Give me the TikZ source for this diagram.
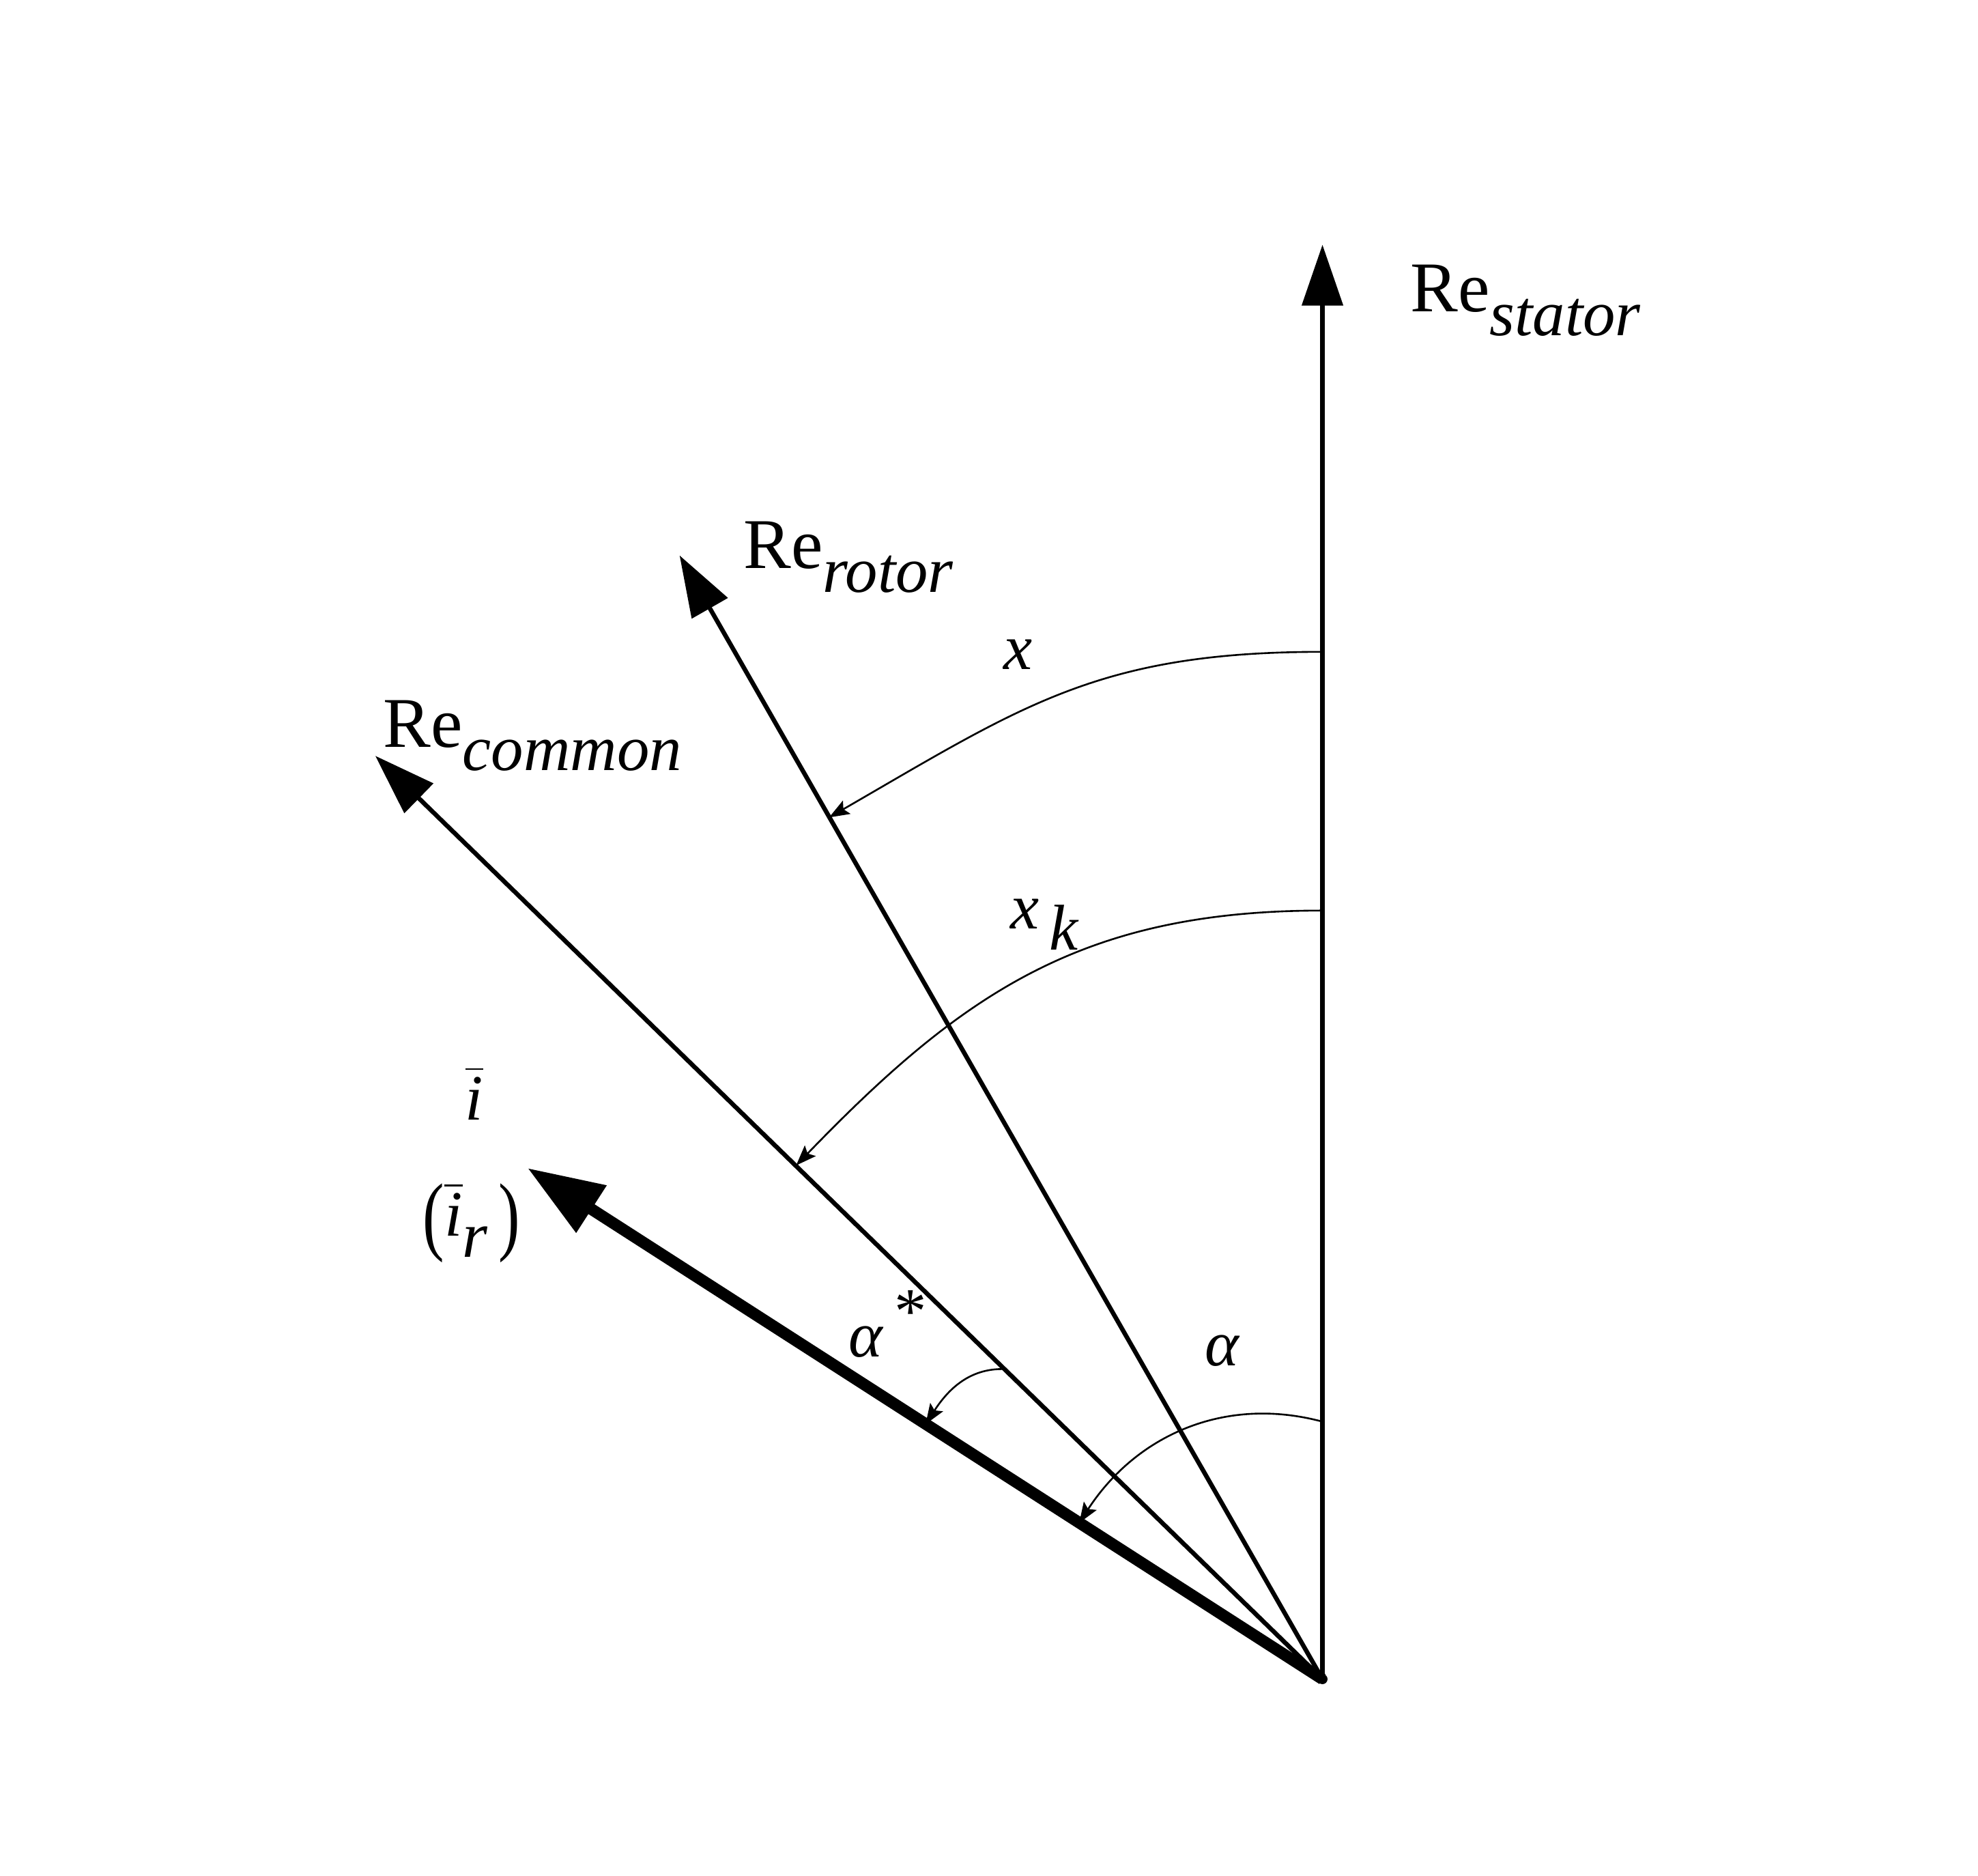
\documentclass[tikz,border=0pt]{standalone}
\usepackage{graphicx}
\usepackage{fontspec}
\setmainfont{Liberation Serif}
\usetikzlibrary{arrows.meta}
\newcommand{\resub}[1]{{\fontsize{16}{18}\selectfont Re}\raisebox{-0.8ex}{\textit{#1}}}
\newcommand{\tallparen}[1]{\raisebox{-0.12em}{\scalebox{1}[1.35]{#1}}}
\begin{document}
\begin{tikzpicture}[x=0.01cm,y=0.01cm,
    axis/.style={line width=1pt,-{Triangle[length=0.48cm,width=0.32cm]}},
    current/.style={line width=2.6pt,-{Triangle[length=0.6cm,width=0.42cm]}},
    angarc/.style={line width=0.4pt,-{Stealth[length=0.16cm,width=0.12cm,inset=0.03cm]}},
    lbl/.style={font=\fontsize{14.5}{17}\selectfont}]
    \useasboundingbox (-1043,-155) rectangle (517,1324);
    \coordinate (O) at (0,0);
    \coordinate (stator) at (0,1131);
    \coordinate (rotor) at (-507,886);
    \coordinate (common) at (-747,728);
    \coordinate (cur) at (-627,403);
    % axes and current vector
    \draw[axis] (O) -- (stator);
    \draw[axis] (O) -- (rotor);
    \draw[axis] (O) -- (common);
    \draw[current] (O) -- (cur);
    \fill (O) circle (4);
    % angles
    \coordinate (xs) at (0,810);       \coordinate (xe) at (119.8:783);
    \coordinate (xks) at (0,606);      \coordinate (xke) at (135.7:580);
    \coordinate (as) at (0,203);       \coordinate (ae) at (147.3:228);
    \coordinate (ass) at (135.7:350);  \coordinate (ase) at (147.3:372);
    \draw[angarc] (xs) to[out=180,in=30,looseness=1.1] (xe);
    \draw[angarc] (xks) to[out=180,in=46,looseness=1.05] (xke);
    \draw[angarc] (as) to[out=165,in=57] (ae);
    \draw[angarc] (ass) to[out=178,in=57] (ase);
    % labels
    \node[lbl,anchor=base west] (restator) at (57,1078) {\resub{stator}};
    \node[lbl,anchor=base west] (rerotor) at (-469,876) {\resub{rotor}};
    \node[lbl,anchor=base west] (recommon) at (-753,735) {\resub{common}};
    \node[lbl] (lx) at (-240,808) {\textit{x}};
    \node[lbl] (lxk) at (-219,595) {\textit{x}\,\raisebox{-0.7ex}{\textit{k}}};
    \node[lbl] (libar) at (-669,462) {$\overline{\vphantom{l}\textit{i}}$};
    \node[lbl] (lir) at (-671,360) {\tallparen{(}$\overline{\vphantom{l}\textit{i}}$\raisebox{-0.7ex}{\textit{r}}\,\tallparen{)}};
    \node[lbl] (lastar) at (-343,280) {\textit{α}\,\raisebox{0.8ex}{*}};
    \node[lbl] (lalpha) at (-79,259) {\textit{α}};
\end{tikzpicture}
\end{document}
